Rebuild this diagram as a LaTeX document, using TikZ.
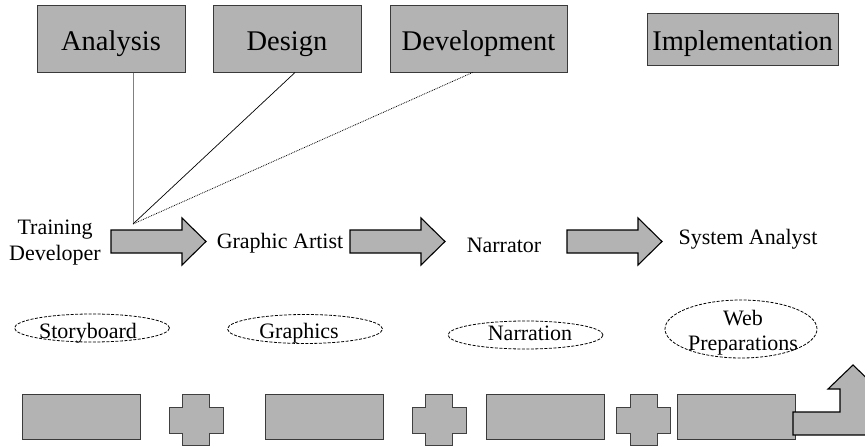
\documentclass[tikz,border=0pt]{standalone}
\usepackage{fontspec}
\setmainfont{Liberation Serif}
\usetikzlibrary{shapes.geometric,calc}
\definecolor{boxgray}{HTML}{B3B3B3}
\definecolor{edgegray}{HTML}{3A3A3A}

\begin{document}
\begin{tikzpicture}[x=1pt,y=-1pt,
  phase/.style={draw=edgegray, fill=boxgray, line width=1pt, inner sep=0pt,
    text height=23pt, text depth=0pt,
    font=\fontsize{28.5}{32}\selectfont},
  role/.style={font=\fontsize{22}{26}\selectfont, align=center, inner sep=0pt},
  oval/.style={ellipse, draw=black, line width=0.8pt,
    dash pattern=on 3pt off 1.5pt, inner sep=0pt},
  ovaltext/.style={font=\fontsize{22}{25}\selectfont, align=center, inner sep=0pt},
  blockarrow/.style={draw=black, fill=boxgray, line width=1.1pt, line join=miter},
  block/.style={draw=edgegray, fill=boxgray, line width=0.9pt},
  plus/.style={draw=gray!50!black, fill=boxgray, line width=0.9pt},
]
\useasboundingbox (0,0) rectangle (865,447);
\clip (0,0) rectangle (865,447);

% phases across the top
\node[phase, minimum width=148pt, minimum height=67pt] (an) at (111,38.5) {Analysis};
\node[phase, minimum width=148pt, minimum height=67pt] (de) at (287,38.5) {Design};
\node[phase, minimum width=177pt, minimum height=67pt] (dv) at (478.5,38.5) {Development};
\node[phase, minimum width=191pt, minimum height=52pt] (im) at (742.5,39) {Implementation};

% links from the phases down to the training developer
\coordinate (hub) at (133,224);
\draw[gray, line width=0.8pt] ($(an.south)+(22,0)$) -- (hub);
\draw[black, line width=0.7pt] ($(de.south)+(8,0)$) -- (hub);
\draw[black, line width=0.8pt, densely dotted] ($(dv.south)+(-6,0)$) -- (hub);

% roles
\node[role] (td) at (55,243) {Training\\Developer};
\node[role] (ga) at (280,243) {Graphic Artist};
\node[role] (na) at (504,245) {Narrator};
\node[role] (sa) at (748,239) {System Analyst};

% block arrows between the roles
\foreach \x in {111,350,567}{
  \draw[blockarrow] (\x,230) -- ++(71,0) -- ++(0,-12) -- ++(24,23.5)
    -- ++(-24,23.5) -- ++(0,-12) -- ++(-71,0) -- cycle;
}

% deliverables
\node[oval, minimum width=155pt, minimum height=28pt] (sb) at (92,328) {};
\node[ovaltext] (sbt) at (88,333) {Storyboard};
\node[oval, minimum width=155pt, minimum height=29pt] (gr) at (305,329) {};
\node[ovaltext] (grt) at (299,333) {Graphics};
\node[oval, minimum width=155pt, minimum height=28pt] (nr) at (525.5,335) {};
\node[ovaltext] (nrt) at (530,333) {Narration};
\node[oval, minimum width=152pt, minimum height=58pt] (wp) at (741,329) {};
\node[ovaltext] (wpt) at (743,333) {Web\\Preparations};

% bottom row: blocks joined by plus signs
\foreach \a in {22,265,486,677}{
  \draw[block] (\a,394) rectangle (\a+118,439);
}
\foreach \c in {196,439,643.5}{
  \draw[plus] (\c-13.5,394) -- (\c+13.5,394) -- (\c+13.5,407) -- (\c+27,407)
    -- (\c+27,433) -- (\c+13.5,433) -- (\c+13.5,445) -- (\c-13.5,445)
    -- (\c-13.5,433) -- (\c-27,433) -- (\c-27,407) -- (\c-13.5,407) -- cycle;
}

% bent arrow leaving the last block
\draw[blockarrow] (793,412) -- (840,412) -- (840,389) -- (828,389) -- (853,365)
  -- (878,389) -- (866,389) -- (866,435) -- (793,435) -- cycle;
\end{tikzpicture}
\end{document}
